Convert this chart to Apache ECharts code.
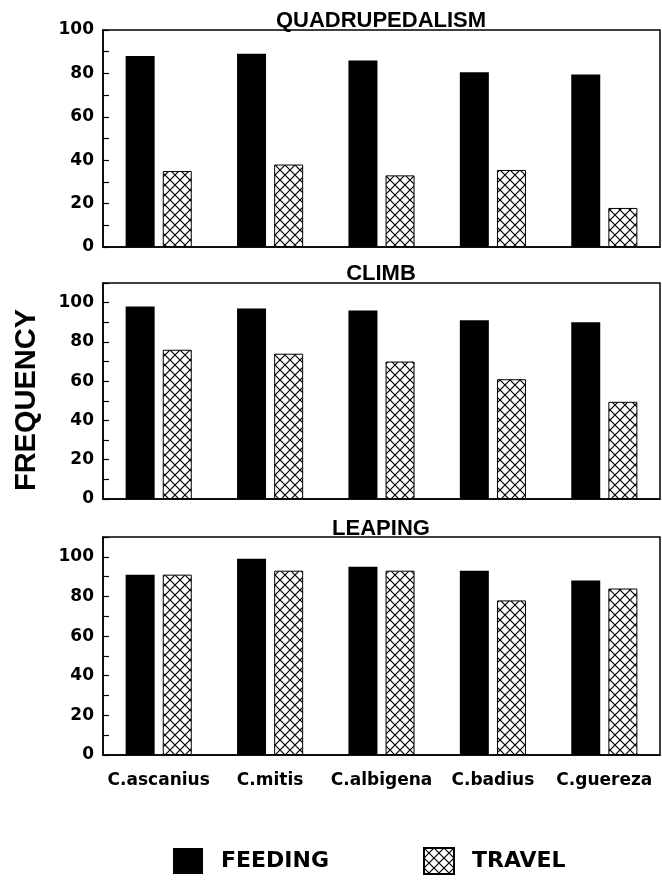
<!DOCTYPE html>
<html>
<head>
<meta charset="utf-8">
<script src="https://cdn.jsdelivr.net/npm/echarts@6/dist/echarts.min.js"></script>
<style>
  html, body { margin: 0; padding: 0; background: #fff; }
  #chart { width: 662px; height: 881px; }
</style>
</head>
<body>
<div id="chart"></div>
<script>
const categories = ['C.ascanius', 'C.mitis', 'C.albigena', 'C.badius', 'C.guereza'];
const panelTitles = ['QUADRUPEDALISM', 'CLIMB', 'LEAPING'];
const panelMax = [100, 110, 110];
const quadFeeding = [88, 89, 86, 80.5, 79.5];
const quadTravel = [35, 38, 33, 35.5, 18];
const climbFeeding = [98, 97, 96, 91, 90];
const climbTravel = [76, 74, 70, 61, 49.5];
const leapFeeding = [91, 99, 95, 93, 88];
const leapTravel = [91, 93, 93, 78, 84];
const feedingByPanel = [quadFeeding, climbFeeding, leapFeeding];
const travelByPanel = [quadTravel, climbTravel, leapTravel];

// cross-hatch pattern
const cv = document.createElement('canvas');
cv.width = 10; cv.height = 10;
const ctx = cv.getContext('2d');
ctx.fillStyle = '#fff';
ctx.fillRect(0, 0, 10, 10);
ctx.strokeStyle = '#000';
ctx.lineWidth = 1.2;
ctx.beginPath();
ctx.moveTo(-1, -1); ctx.lineTo(11, 11);
ctx.moveTo(11, -1); ctx.lineTo(-1, 11);
ctx.stroke();
const hatch = { image: cv, repeat: 'repeat' };

const LAB = 'DejaVu Sans';
const TIT = 'Liberation Sans';

const grids = [
  { left: 103, right: 2, top: 30, height: 217 },
  { left: 103, right: 2, top: 283, height: 216 },
  { left: 103, right: 2, top: 537, height: 218 }
].map(g => Object.assign(g, { show: true, borderColor: '#000', borderWidth: 1.5, backgroundColor: 'transparent' }));

const titleTops = [5, 258, 513];
const titles = panelTitles.map((t, i) => ({
  text: t, left: 376, top: titleTops[i], textAlign: 'center',
  textStyle: { fontFamily: TIT, fontWeight: 'bold', fontSize: 22, color: '#000' }
}));

const xAxes = [0, 1, 2].map(i => ({
  type: 'category', gridIndex: i, data: categories,
  axisLine: { lineStyle: { color: '#000', width: 1.5 } },
  axisTick: { show: false },
  axisLabel: {
    show: i === 2, interval: 0, color: '#000', fontFamily: LAB, fontWeight: 'bold', fontSize: 17, margin: 17
  }
}));

const yAxes = [0, 1, 2].map(i => ({
  type: 'value', gridIndex: i, min: 0, max: panelMax[i], interval: 10,
  axisLine: { show: true, lineStyle: { color: '#000', width: 1.5 } },
  axisTick: { show: true, inside: true, length: 6, lineStyle: { color: '#000', width: 1.2 } },
  splitLine: { show: false },
  axisLabel: {
    color: '#000', fontFamily: LAB, fontWeight: 'bold', fontSize: 17, margin: 9,
    formatter: v => (v % 20 === 0 && v <= 100) ? String(v) : ''
  },
  name: i === 1 ? 'FREQUENCY' : '',
  nameLocation: 'middle', nameRotate: 90, nameGap: 62,
  nameTextStyle: { fontFamily: TIT, fontWeight: 'bold', fontSize: 29, color: '#000', padding: [0, 18, 0, 0] }
}));

const series = [];
for (let i = 0; i < 3; i++) {
  series.push({
    name: 'FEEDING', type: 'bar', xAxisIndex: i, yAxisIndex: i,
    data: feedingByPanel[i], barWidth: 29, barGap: '28%',
    itemStyle: { color: '#000' }
  });
  series.push({
    name: 'TRAVEL', type: 'bar', xAxisIndex: i, yAxisIndex: i,
    data: travelByPanel[i], barWidth: 29, barGap: '28%',
    itemStyle: { color: hatch, borderColor: '#000', borderWidth: 1 }
  });
}

const chart = echarts.init(document.getElementById('chart'), null, { renderer: 'canvas' });
chart.setOption({
  backgroundColor: '#fff',
  animation: false,
  title: titles,
  grid: grids,
  xAxis: xAxes,
  yAxis: yAxes,
  legend: {
    data: ['FEEDING', 'TRAVEL'],
    left: 168, top: 842, itemWidth: 30, itemHeight: 26, itemGap: 94,
    icon: 'rect',
    textStyle: { fontFamily: LAB, fontWeight: 'bold', fontSize: 22, color: '#000', padding: [0, 0, 0, 13] }
  },
  series: series
});
</script>
</body>
</html>
